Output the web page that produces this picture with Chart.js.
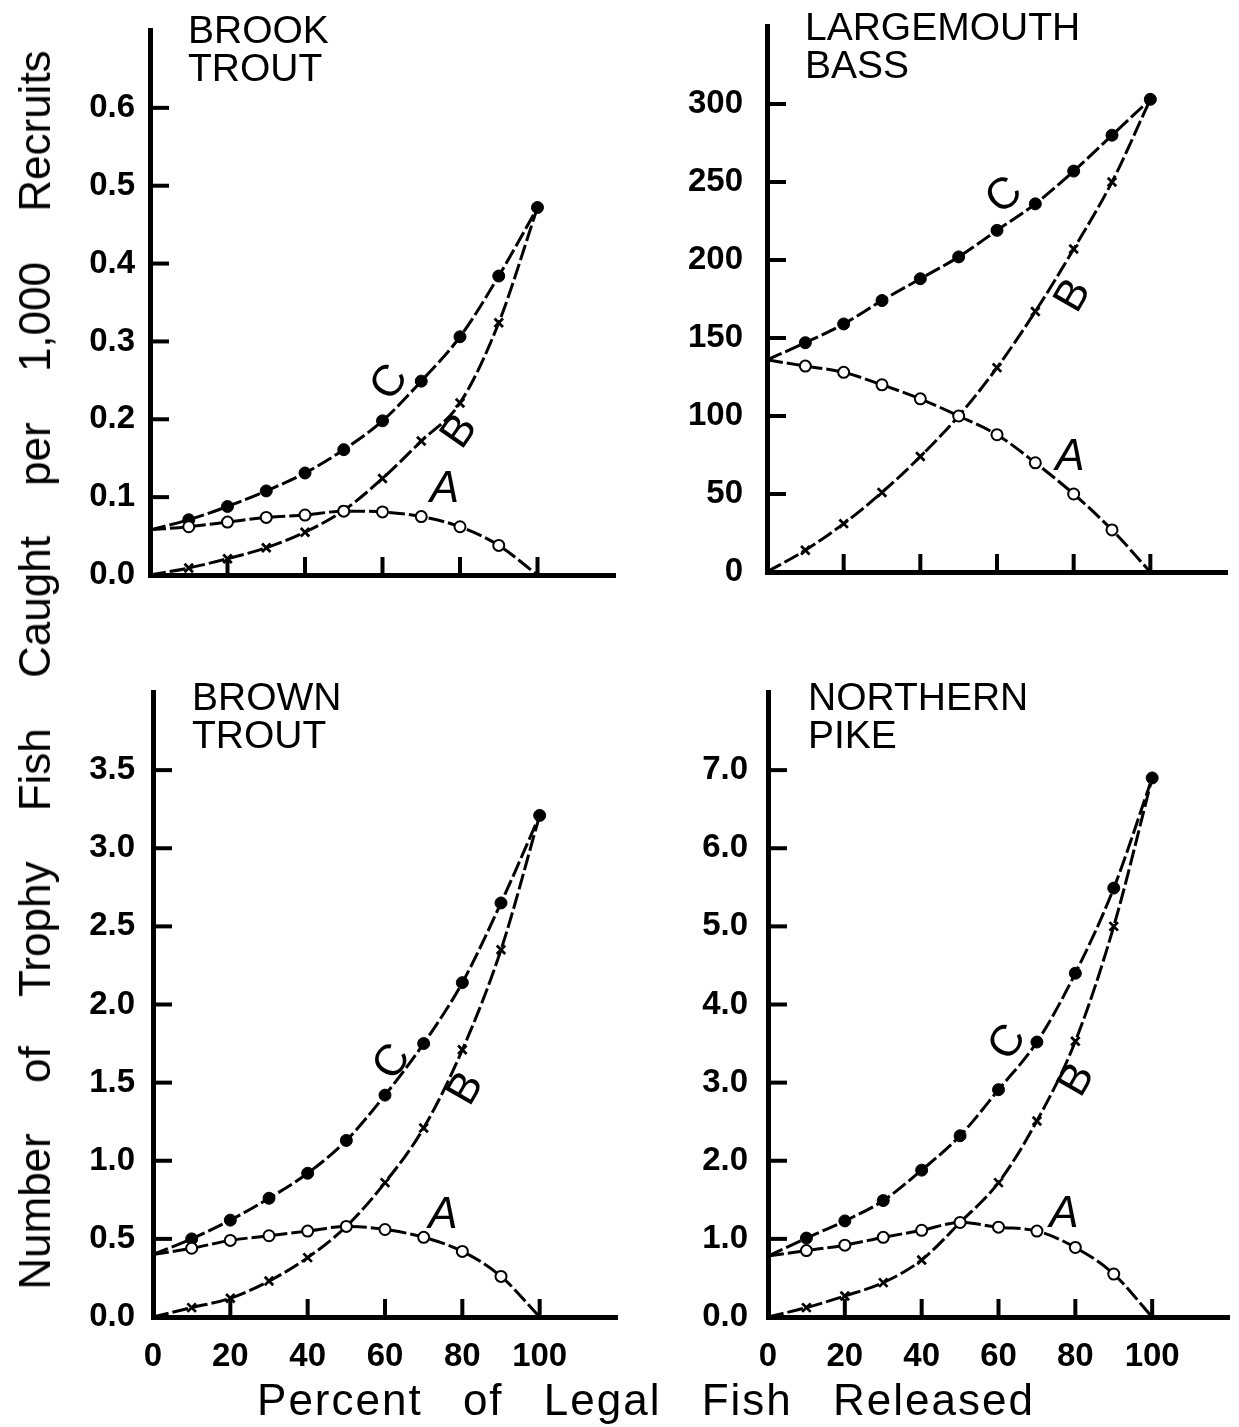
<!DOCTYPE html>
<html>
<head>
<meta charset="utf-8">
<script src="https://cdn.jsdelivr.net/npm/chart.js@4.4.0/dist/chart.umd.min.js"></script>
<style>
  html, body { margin: 0; padding: 0; background: #fff; }
  body { width: 1239px; height: 1427px; position: relative; overflow: hidden;
         font-family: "Liberation Sans", Arial, sans-serif; color: #000; }
  canvas { position: absolute; }
  .ptitle { position: absolute; font-size: 39px; line-height: 38px; white-space: nowrap; }
  #ytitle { position: absolute; left: 35px; top: 670px; font-size: 44px; white-space: nowrap;
            word-spacing: 38px; transform: translate(-50%, -50%) rotate(-90deg); }
  #xtitle { position: absolute; left: 646px; top: 1400px; font-size: 44px; white-space: nowrap;
            letter-spacing: 2px; word-spacing: 26px; transform: translate(-50%, -50%); }
</style>
</head>
<body>
<canvas id="brook" width="585" height="615" style="left:50px;top:0px"></canvas>
<canvas id="bass" width="579" height="612" style="left:660px;top:0px"></canvas>
<canvas id="brown" width="585" height="717" style="left:50px;top:660px"></canvas>
<canvas id="pike" width="579" height="717" style="left:660px;top:660px"></canvas>

<div class="ptitle" style="left:188px;top:11px">BROOK<br>TROUT</div>
<div class="ptitle" style="left:805px;top:8px">LARGEMOUTH<br>BASS</div>
<div class="ptitle" style="left:192px;top:678px">BROWN<br>TROUT</div>
<div class="ptitle" style="left:808px;top:678px">NORTHERN<br>PIKE</div>
<div id="ytitle">Number of Trophy Fish Caught per 1,000 Recruits</div>
<div id="xtitle">Percent of Legal Fish Released</div>

<script>
// percent of legal fish released
const pct = [0, 10, 20, 30, 40, 50, 60, 70, 80, 90, 100];
const xTicks = [0, 20, 40, 60, 80, 100];

// brook trout
const brookA = [0.058, 0.062, 0.068, 0.074, 0.077, 0.082, 0.081, 0.075, 0.062, 0.038, 0];
const brookB = [0, 0.009, 0.021, 0.035, 0.055, 0.083, 0.124, 0.172, 0.221, 0.324, 0.472];
const brookC = [0.058, 0.071, 0.088, 0.108, 0.131, 0.161, 0.198, 0.249, 0.306, 0.384, 0.472];
const brookTicks = [0, 0.1, 0.2, 0.3, 0.4, 0.5, 0.6];

// largemouth bass
const bassA = [136, 132, 128, 120, 111, 100, 88, 70, 50, 27, 0];
const bassB = [0, 14, 31, 51, 74, 100, 131, 167, 207, 250, 303];
const bassC = [136, 147, 159, 174, 188, 202, 219, 236, 257, 280, 303];
const bassTicks = [0, 50, 100, 150, 200, 250, 300];

// brown trout
const brownA = [0.40, 0.44, 0.49, 0.52, 0.55, 0.58, 0.56, 0.51, 0.42, 0.26, 0];
const brownB = [0, 0.06, 0.12, 0.23, 0.38, 0.58, 0.86, 1.21, 1.71, 2.35, 3.21];
const brownC = [0.40, 0.50, 0.62, 0.76, 0.92, 1.13, 1.42, 1.75, 2.14, 2.65, 3.21];
const brownTicks = [0, 0.5, 1.0, 1.5, 2.0, 2.5, 3.0, 3.5];

// northern pike
const pikeA = [0.78, 0.85, 0.92, 1.02, 1.11, 1.21, 1.15, 1.10, 0.89, 0.55, 0];
const pikeB = [0, 0.12, 0.27, 0.44, 0.73, 1.21, 1.72, 2.51, 3.53, 5.00, 6.90];
const pikeC = [0.78, 1.01, 1.23, 1.49, 1.88, 2.32, 2.91, 3.52, 4.40, 5.49, 6.90];
const pikeTicks = [0, 1, 2, 3, 4, 5, 6, 7];

Chart.defaults.font.family = '"Liberation Sans", Arial, sans-serif';
Chart.defaults.color = '#000';

// no marker on the shared start point; A and B have none on the end point either
const markA = pct.map((p, i) => (i > 0 && i < pct.length - 1) ? 5.5 : 0);
const markB = pct.map((p, i) => (i > 0 && i < pct.length - 1) ? 6 : 0);
const markC = pct.map((p, i) => (i > 0) ? 6 : 0);

// inward tick marks + the A/B/C letters along the curves
function panelPlugin(items, yTicks) {
  return {
    id: 'panelExtras',
    afterDraw(chart) {
      const ctx = chart.ctx;
      const area = chart.chartArea;
      const x = chart.scales.x, y = chart.scales.y;

      ctx.save();
      ctx.fillStyle = '#000';
      for (let i = 1; i < xTicks.length; i++) {
        const px = x.getPixelForValue(xTicks[i]);
        ctx.fillRect(px - 2, area.bottom - 18, 4, 18);
      }
      for (let i = 1; i < yTicks.length; i++) {
        const py = y.getPixelForValue(yTicks[i]);
        ctx.fillRect(area.left, py - 2, 19, 4);
      }
      ctx.restore();

      items.forEach(it => {
        ctx.save();
        ctx.translate(x.getPixelForValue(it.x), y.getPixelForValue(it.y));
        ctx.rotate(it.rot * Math.PI / 180);
        ctx.font = (it.italic ? 'italic ' : '') + '44px "Liberation Sans", Arial, sans-serif';
        ctx.fillStyle = '#000';
        ctx.textAlign = 'center';
        ctx.textBaseline = 'middle';
        ctx.fillText(it.text, 0, 0);
        ctx.restore();
      });
    }
  };
}

function noPad(s) {
  s.paddingTop = 0; s.paddingBottom = 0; s.paddingLeft = 0; s.paddingRight = 0;
}

function line(vals, extra) {
  return Object.assign({
    data: pct.map((p, i) => ({ x: p, y: vals[i] })),
    borderColor: '#000',
    borderWidth: 3,
    borderDash: [16, 4],
    cubicInterpolationMode: 'monotone',
    pointBorderColor: '#000',
    clip: false
  }, extra);
}

function makePanel(id, A, B, C, yMax, yTicks, dec, cfg) {
  new Chart(document.getElementById(id), {
    type: 'line',
    data: {
      datasets: [
        line(A, { pointStyle: 'circle', pointRadius: markA, pointBackgroundColor: '#fff', pointBorderWidth: 2 }),
        line(B, { pointStyle: 'crossRot', pointRadius: markB, pointBorderWidth: 2.8 }),
        line(C, { pointStyle: 'circle', pointRadius: markC, pointBackgroundColor: '#000', pointBorderWidth: 1 })
      ]
    },
    options: {
      responsive: false,
      animation: false,
      events: [],
      layout: { padding: { top: cfg.top, right: cfg.right, left: 0, bottom: 0 } },
      plugins: { legend: { display: false }, tooltip: { enabled: false } },
      scales: {
        x: {
          type: 'linear', min: 0, max: 120,
          afterBuildTicks: s => { s.ticks = xTicks.map(v => ({ value: v })); },
          afterFit: s => { s.height = cfg.xh; noPad(s); },
          border: { display: true, color: '#000', width: 5 },
          grid: { display: false, drawTicks: false },
          ticks: { display: cfg.xLabels, padding: 20, font: { size: 33, weight: 'bold' }, maxRotation: 0 }
        },
        y: {
          type: 'linear', min: 0, max: yMax,
          afterBuildTicks: s => { s.ticks = yTicks.map(v => ({ value: v })); },
          afterFit: s => { s.width = cfg.yw; noPad(s); },
          border: { display: true, color: '#000', width: 5 },
          grid: { display: false, drawTicks: false },
          ticks: { padding: cfg.ypad, font: { size: 33, weight: 'bold' }, callback: v => Number(v).toFixed(dec) }
        }
      }
    },
    plugins: [panelPlugin(cfg.labels, yTicks)]
  });
}

makePanel('brook', brookA, brookB, brookC, 0.7, brookTicks, 1, {
  top: 30, right: 20, xh: 40, yw: 100, ypad: 15, xLabels: false,
  labels: [
    { text: 'C', x: 62, y: 0.247, rot: -55 },
    { text: 'B', x: 80, y: 0.184, rot: -55 },
    { text: 'A', x: 76, y: 0.109, rot: 0, italic: true }
  ]
});

makePanel('bass', bassA, bassB, bassC, 350, bassTicks, 0, {
  top: 26, right: 12, xh: 40, yw: 107, ypad: 24, xLabels: false,
  labels: [
    { text: 'C', x: 62, y: 241, rot: -40 },
    { text: 'B', x: 80, y: 177, rot: -60 },
    { text: 'A', x: 79, y: 73, rot: 0, italic: true }
  ]
});

makePanel('brown', brownA, brownB, brownC, 4.0, brownTicks, 1, {
  top: 32, right: 18, xh: 60, yw: 103, ypad: 18, xLabels: true,
  labels: [
    { text: 'C', x: 62, y: 1.63, rot: -55 },
    { text: 'B', x: 81, y: 1.46, rot: -60 },
    { text: 'A', x: 75, y: 0.65, rot: 0, italic: true }
  ]
});

makePanel('pike', pikeA, pikeB, pikeC, 8.0, pikeTicks, 1, {
  top: 32, right: 10, xh: 60, yw: 108, ypad: 20, xLabels: true,
  labels: [
    { text: 'C', x: 62.5, y: 3.51, rot: -55 },
    { text: 'B', x: 80.5, y: 3.03, rot: -60 },
    { text: 'A', x: 77, y: 1.31, rot: 0, italic: true }
  ]
});
</script>
</body>
</html>
